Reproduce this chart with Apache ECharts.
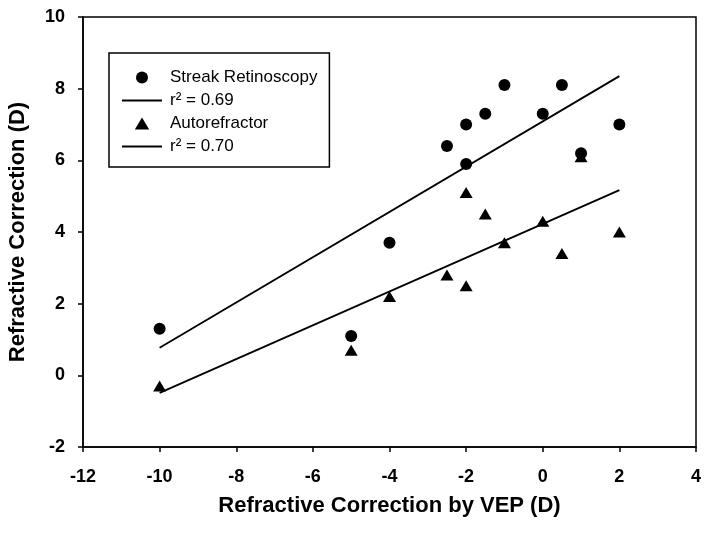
<!DOCTYPE html>
<html>
<head>
<meta charset="utf-8">
<script src="https://cdn.jsdelivr.net/npm/echarts@6/dist/echarts.min.js"></script>
<style>html,body{margin:0;padding:0;background:#fff;}#c{width:712px;height:534px;}</style>
</head>
<body>
<div id="c"></div>
<script>
const vepX = [-10, -5, -4, -2.5, -2, -2, -1.5, -1, 0, 0.5, 1, 2];
const streak = [1.3, 1.1, 3.7, 6.4, 7.0, 5.9, 7.3, 8.1, 7.3, 8.1, 6.2, 7.0];
const autoref = [-0.3, 0.7, 2.2, 2.8, 5.1, 2.5, 4.5, 3.7, 4.3, 3.4, 6.1, 4.0];
const fitX = [-10, 2];
const streakFit = [0.77, 8.35];
const autoFit = [-0.49, 5.17];
const names = ['Streak Retinoscopy', 'r\u00b2 = 0.69', 'Autorefractor', 'r\u00b2 = 0.70'];
const xTicks = { min: -12, max: 4, interval: 2 };
const yTicks = { min: -2, max: 10, interval: 2 };

const pair = (xs, ys) => xs.map((x, i) => [x, ys[i]]);
const font = 'Liberation Sans, Arial, sans-serif';
const triIcon = 'path://M6,0 L12,10 L0,10 Z';

const chart = echarts.init(document.getElementById('c'), null, { renderer: 'canvas' });
chart.setOption({
  animation: false,
  backgroundColor: '#fff',
  grid: { left: 83, right: 16, top: 17, bottom: 87, show: true, borderColor: '#000', borderWidth: 1.5,
          containLabel: false, outerBoundsMode: 'none' },
  legend: {
    orient: 'vertical', left: 109, top: 53,
    padding: [16, 12, 12, 12],
    itemGap: 6, itemWidth: 40, itemHeight: 12,
    borderColor: '#000', borderWidth: 1.5,
    textStyle: { fontFamily: font, fontSize: 17, color: '#000', padding: [0, 0, 0, 3] },
    data: [
      { name: names[0], icon: 'circle' },
      { name: names[1], itemStyle: { opacity: 0 } },
      { name: names[2], icon: triIcon },
      { name: names[3], itemStyle: { opacity: 0 } }
    ]
  },
  xAxis: {
    type: 'value', min: xTicks.min, max: xTicks.max, interval: xTicks.interval,
    name: 'Refractive Correction by VEP (D)', nameLocation: 'middle', nameGap: 48,
    nameTextStyle: { fontFamily: font, fontSize: 22, fontWeight: 'bold', color: '#000' },
    axisLine: { onZero: false, lineStyle: { color: '#000', width: 1.5 } },
    axisTick: { show: true, inside: false, length: 5, lineStyle: { color: '#000', width: 1.5 } },
    axisLabel: { margin: 21, fontFamily: font, fontSize: 18, fontWeight: 'bold', color: '#000' },
    splitLine: { show: false }
  },
  yAxis: {
    type: 'value', min: yTicks.min, max: yTicks.max, interval: yTicks.interval,
    name: 'Refractive Correction (D)', nameLocation: 'middle', nameGap: 54,
    nameTextStyle: { fontFamily: font, fontSize: 22, fontWeight: 'bold', color: '#000' },
    axisLine: { show: true, onZero: false, lineStyle: { color: '#000', width: 1.5 } },
    axisTick: { show: true, inside: false, length: 5, lineStyle: { color: '#000', width: 1.5 } },
    axisLabel: { margin: 18, fontFamily: font, fontSize: 18, fontWeight: 'bold', color: '#000' },
    splitLine: { show: false }
  },
  series: [
    { name: names[0], type: 'scatter', symbol: 'circle', symbolSize: 12,
      itemStyle: { color: '#000', opacity: 1 }, data: pair(vepX, streak), z: 3 },
    { name: names[1], type: 'line', symbol: 'none', lineStyle: { color: '#000', width: 1.8 },
      itemStyle: { color: '#000' }, data: pair(fitX, streakFit), z: 2 },
    { name: names[2], type: 'scatter', symbol: 'triangle', symbolSize: [13, 11], symbolKeepAspect: true,
      itemStyle: { color: '#000', opacity: 1 }, data: pair(vepX, autoref), z: 3 },
    { name: names[3], type: 'line', symbol: 'none', lineStyle: { color: '#000', width: 1.8 },
      itemStyle: { color: '#000' }, data: pair(fitX, autoFit), z: 2 }
  ]
});
</script>
</body>
</html>
